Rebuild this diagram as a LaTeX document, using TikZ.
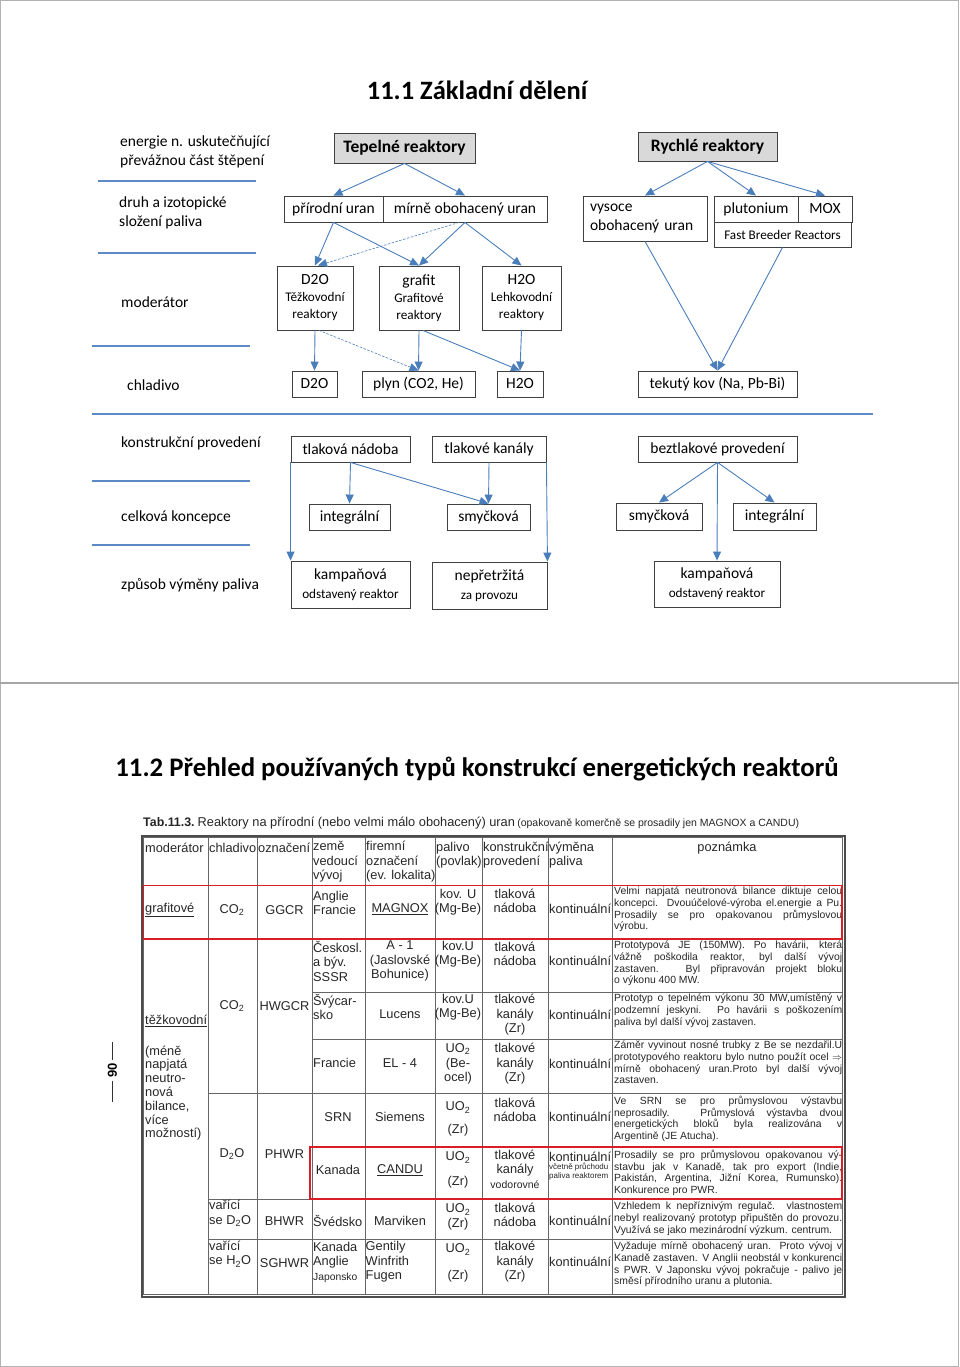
\documentclass[tikz,border=0pt]{standalone}
\usepackage{fontspec}
\setmainfont{Carlito}
\newfontfamily\arialfnt{Liberation Sans}
\usetikzlibrary{arrows.meta}

\definecolor{arrowblue}{RGB}{74,126,187}
\definecolor{lineblue}{RGB}{91,138,198}
\definecolor{boxgray}{RGB}{217,217,217}
\definecolor{scanred}{RGB}{218,30,40}

\newcommand\hfnt{\fontsize{26.5}{30}\selectfont\bfseries}
\newcommand\kfnt{\fontsize{17.5}{20}\selectfont\bfseries}
\newcommand\mfnt{\fontsize{15.5}{19}\selectfont}
\newcommand\sfnt{\fontsize{13.2}{17}\selectfont}
\newcommand\tfnt{\arialfnt\fontsize{12.8}{14.5}\selectfont}
\newcommand\nfnt{\arialfnt\fontsize{10.4}{11.7}\selectfont}
\newcommand\jl[1]{\makebox[228pt][s]{#1}}

\begin{document}
\begin{tikzpicture}[x=1pt,y=-1pt,
  box/.style={draw=black!75, line width=0.9pt, minimum height=26, inner sep=3,
    font=\mfnt, align=center},
  headbox/.style={box, fill=boxgray, font=\kfnt},
  tallbox/.style={box, minimum height=64},
  lbl/.style={anchor=west, inner sep=0, font=\mfnt, align=left},
  arr/.style={draw=arrowblue, line width=0.9pt, -{Triangle[length=9pt,width=8pt]}},
  darr/.style={arr, line width=0.6pt, dash pattern=on 2.5pt off 1.5pt},
  lvlline/.style={draw=lineblue, line width=1.5pt},
  tcell/.style={inner sep=0, font=\tfnt, text=black!85, align=center},
  tlcell/.style={tcell, anchor=west, align=left},
  note/.style={inner sep=0, font=\nfnt, text=black!85, align=left, anchor=north west},
  tabline/.style={draw=black!60, line width=0.7pt},
  redframe/.style={draw=scanred, line width=1.8pt}]
  \useasboundingbox (0,0) rectangle (960,1367);
  \draw[black!30, line width=1pt] (0.5,0.5) rectangle (958.5,1366.5);
  \draw[black!35, line width=1.2pt] (0,683) -- (958.5,683);

  % 11.1 classification
  \node[font=\hfnt] (t1) at (477,90) {11.1 Základní dělení};

  \node[lbl] (l1) at (120,151.5) {energie n. uskutečňující\\převážnou část štěpení};
  \node[lbl] (l2) at (119,212.5) {druh a izotopické\\složení paliva};
  \node[lbl] (l3) at (121,302) {moderátor};
  \node[lbl] (l4) at (127,385) {chladivo};
  \node[lbl] (l5) at (121,443) {konstrukční provedení};
  \node[lbl] (l6) at (121,517) {celková koncepce};
  \node[lbl] (l7) at (121,585) {způsob výměny paliva};
  \draw[lvlline] (98,181) -- (256,181);
  \draw[lvlline] (98,253) -- (256,253);
  \draw[lvlline] (92,346) -- (250,346);
  \draw[lvlline] (92,414) -- (873,414);
  \draw[lvlline] (92,481) -- (250,481);
  \draw[lvlline] (92,545) -- (250,545);

  \node[headbox, minimum width=141, minimum height=30] (tep) at (404.5,148) {Tepelné reaktory};
  \node[headbox, minimum width=139, minimum height=29] (ryc) at (707.5,146.5) {Rychlé reaktory};

  \node[box, minimum width=99] (pu) at (333.5,209) {přírodní uran};
  \node[box, minimum width=164] (mo) at (465,209) {mírně obohacený uran};
  \node[box, minimum width=124, minimum height=45, text width=110, inner xsep=7,
    align=left] (vys) at (645,218.5) {\raisebox{-3pt}{vysoce}\\\raisebox{-3pt}{obohacený uran}};
  \node[box, minimum width=84] (plu) at (756,209) {plutonium};
  \node[box, minimum width=54] (mox) at (825,209) {MOX};
  \node[box, minimum width=137, minimum height=25, font=\sfnt] (fbr) at (782.5,234.5) {Fast Breeder Reactors};

  \node[tallbox, minimum width=76] (d2o) at (315,298) {\raisebox{-3pt}{D2O}\\[1pt]{\sfnt Těžkovodní}\\[-2pt]{\sfnt reaktory}};
  \node[tallbox, minimum width=80] (gra) at (419,298) {\raisebox{-3pt}{grafit}\\[1pt]{\sfnt Grafitové}\\[-2pt]{\sfnt reaktory}};
  \node[tallbox, minimum width=79] (h2o) at (521.5,298) {\raisebox{-3pt}{H2O}\\[1pt]{\sfnt Lehkovodní}\\[-2pt]{\sfnt reaktory}};

  \node[box, minimum width=45] (cd2o) at (314.5,384) {D2O};
  \node[box, minimum width=113] (plyn) at (418.5,384) {plyn (CO2, He)};
  \node[box, minimum width=46] (ch2o) at (520,384) {H2O};
  \node[box, minimum width=159] (kov) at (717.5,384) {tekutý kov (Na, Pb-Bi)};

  \node[box, minimum width=119] (tn) at (350.5,449) {tlaková nádoba};
  \node[box, minimum width=114] (tk) at (489,449) {tlakové kanály};
  \node[box, minimum width=159] (bez) at (717.5,449) {beztlakové provedení};

  \node[box, minimum width=81] (int1) at (349.5,517) {integrální};
  \node[box, minimum width=83] (sm1) at (488.5,517) {smyčková};
  \node[box, minimum width=86, minimum height=27] (sm2) at (659,516.5) {smyčková};
  \node[box, minimum width=83, minimum height=27] (int2) at (774.5,516.5) {integrální};

  \node[box, minimum width=119, minimum height=47] (kam1) at (350.5,584.5) {kampaňová\\{\sfnt odstavený reaktor}};
  \node[box, minimum width=115, minimum height=47] (nep) at (489.5,585.5) {nepřetržitá\\{\sfnt za provozu}};
  \node[box, minimum width=126, minimum height=46] (kam2) at (717,584) {kampaňová\\{\sfnt odstavený reaktor}};

  \foreach \t in {pu,mo} \draw[arr] (tep.south) -- (\t.north);
  \foreach \t in {vys,plu,mox} \draw[arr] (ryc.south) -- (\t.north);
  \foreach \t in {d2o,gra} \draw[arr] (pu.south) -- (\t.north);
  \foreach \t in {gra,h2o} \draw[arr] (mo.south) -- (\t.north);
  \draw[darr] ([xshift=-6pt]mo.south) -- ([xshift=3pt]d2o.north);
  \draw[arr] (vys.south) -- (kov.north);
  \draw[arr] (fbr.south) -- (kov.north);
  \draw[arr] (d2o.south) -- (cd2o.north);
  \draw[darr] ([xshift=4pt]d2o.south) -- (plyn.north);
  \draw[arr] (gra.south) -- (plyn.north);
  \draw[arr] ([xshift=4pt]gra.south) -- (ch2o.north);
  \draw[arr] (h2o.south) -- (ch2o.north);
  \draw[arr] (tn.south west) -- (kam1.north west);
  \foreach \t in {int1,sm1} \draw[arr] (tn.south) -- (\t.north);
  \draw[arr] (tk.south) -- (sm1.north);
  \draw[arr] (tk.south east) -- (nep.north east);
  \foreach \t in {sm2,int2,kam2} \draw[arr] (bez.south) -- (\t.north);

  % 11.2 table
  \node[font=\fontsize{26.8}{30}\selectfont\bfseries] (t2) at (477,769)
    {11.2 Přehled používaných typů konstrukcí energetických reaktorů};
  \node[anchor=west, inner sep=0, text=black!85] (cap) at (143,823)
    {{\arialfnt\fontsize{12.4}{14}\selectfont\bfseries Tab.11.3.} {\arialfnt\fontsize{12.8}{14}\selectfont
    Reaktory na přírodní (nebo velmi málo obohacený) uran} {\arialfnt\fontsize{10.5}{12}\selectfont
    (opakovaně komerčně se prosadily jen MAGNOX a CANDU)}};

  \node[rotate=90, inner sep=0, font=\arialfnt\fontsize{13}{14}\selectfont\bfseries] (pg) at (112.5,1070) {90};
  \draw[black!80, line width=1pt] (112.5,1042) -- (112.5,1060);
  \draw[black!80, line width=1pt] (112.5,1081) -- (112.5,1102);

  \draw[black!70, line width=2pt] (141.5,835.5) rectangle (845,1297);
  \draw[tabline] (143.5,837.5) rectangle (842,1294);
  \foreach \x in {208,257,312,365,435,482,548,612}
    \draw[tabline] (\x,837.5) -- (\x,1294);
  \foreach \y in {885,939}
    \draw[tabline] (143.5,\y) -- (842,\y);
  \foreach \y in {992,1039,1147}
    \draw[tabline] (312,\y) -- (842,\y);
  \foreach \y in {1093,1199,1239}
    \draw[tabline] (208,\y) -- (842,\y);

  % header
  \node[tlcell] (hmod) at (145,848) {moderátor};
  \node[tlcell] (hchl) at (209,848) {chladivo};
  \node[tlcell] (hozn) at (258,848) {označení};
  \node[tlcell] (hzem) at (313,862) {země\\vedoucí\\vývoj};
  \node[tlcell] (hfir) at (366,862) {firemní\\označení\\(ev. lokalita)};
  \node[tlcell] (hpal) at (436,855) {palivo\\(povlak)};
  \node[tlcell] (hkon) at (483,855) {konstrukční\\provedení};
  \node[tlcell] (hvym) at (549,855) {výměna\\paliva};
  \node[tcell] (hpoz) at (727,848) {poznámka};

  % moderator, coolant, designation
  \node[tlcell] (mgra) at (145,910) {\underline{grafitové}};
  \node[tlcell] (mtez) at (145,1021) {\underline{těžkovodní}};
  \node[tlcell, font=\arialfnt\fontsize{12.8}{13.8}\selectfont] (mtxt) at (145,1093)
    {(méně\\napjatá\\neutro-\\nová\\bilance,\\více\\možností)};
  \node[tcell] (c1) at (232,910) {CO\textsubscript{2}};
  \node[tcell] (c2) at (232,1006) {CO\textsubscript{2}};
  \node[tcell] (c3) at (232,1154) {D\textsubscript{2}O};
  \node[tlcell] (c4) at (209,1213.5) {vařící\\se D\textsubscript{2}O};
  \node[tlcell] (c5) at (209,1254) {vařící\\se H\textsubscript{2}O};
  \node[tcell] (o1) at (284.5,910) {GGCR};
  \node[tcell] (o2) at (284.5,1006) {HWGCR};
  \node[tcell] (o3) at (284.5,1154) {PHWR};
  \node[tcell] (o4) at (284.5,1221) {BHWR};
  \node[tcell] (o5) at (284.5,1263) {SGHWR};

  % country, name
  \node[tlcell] (z1) at (313,903) {Anglie\\Francie};
  \node[tlcell] (z2) at (313,961) {Českosl.\\a býv.\\SSSR};
  \node[tlcell] (z3) at (313,1007) {Švýcar-\\sko};
  \node[tlcell] (z4) at (313,1063) {Francie};
  \node[tcell] (z5) at (338,1117) {SRN};
  \node[tcell] (z6) at (338,1170) {Kanada};
  \node[tlcell] (z7) at (313,1221) {Švédsko};
  \node[tlcell] (z8) at (313,1262) {Kanada\\Anglie\\{\arialfnt\fontsize{10.3}{12}\selectfont Japonsko}};
  \node[tcell] (f1) at (400,909) {\underline{MAGNOX}};
  \node[tcell] (f2) at (400,961) {A - 1\\(Jaslovské\\Bohunice)};
  \node[tcell] (f3) at (400,1014) {Lucens};
  \node[tcell] (f4) at (400,1063) {EL - 4};
  \node[tcell] (f5) at (400,1117) {Siemens};
  \node[tcell] (f6) at (400,1170) {\underline{CANDU}};
  \node[tcell] (f7) at (400,1221) {Marviken};
  \node[tlcell] (f8) at (365.5,1262) {Gentily\\Winfrith\\Fugen};

  % fuel, design, refuelling
  \node[tcell] (p1) at (458,902) {kov. U\\(Mg-Be)};
  \node[tcell] (p2) at (458,954) {kov.U\\(Mg-Be)};
  \node[tcell] (p3) at (458,1007) {kov.U\\(Mg-Be)};
  \node[tcell] (p4) at (458,1064) {UO\textsubscript{2}\\(Be-\\ocel)};
  \node[tcell] (p5) at (458,1119) {UO\textsubscript{2}\\[8pt](Zr)};
  \node[tcell] (p6) at (458,1170) {UO\textsubscript{2}\\[10pt](Zr)};
  \node[tcell] (p7) at (458,1217) {UO\textsubscript{2}\\(Zr)};
  \node[tcell] (p8) at (458,1263) {UO\textsubscript{2}\\[12pt](Zr)};
  \node[tcell] (k1) at (515,901) {tlaková\\nádoba};
  \node[tcell] (k2) at (515,954) {tlaková\\nádoba};
  \node[tcell] (k3) at (515,1015) {tlakové\\kanály\\(Zr)};
  \node[tcell] (k4) at (515,1064) {tlakové\\kanály\\(Zr)};
  \node[tcell] (k5) at (515,1110) {tlaková\\nádoba};
  \node[tcell] (k6) at (515,1169) {tlakové\\kanály\\{\arialfnt\fontsize{10.5}{12}\selectfont vodorovné}};
  \node[tcell] (k7) at (515,1215) {tlaková\\nádoba};
  \node[tcell] (k8) at (515,1262) {tlakové\\kanály\\(Zr)};
  \foreach \n/\y in {v1/909,v2/961,v3/1015,v4/1064,v5/1117,v6/1157,v7/1221,v8/1262}
    \node[tlcell] (\n) at (549,\y) {kontinuální};
  \node[tlcell, font=\arialfnt\fontsize{8}{9}\selectfont] (v6b) at (549,1171.5) {včetně průchodu\\paliva reaktorem};

  % remarks
  \node[note] (n1) at (614,887) {\jl{Velmi napjatá neutronová bilance diktuje celou}\\
    \jl{koncepci. Dvouúčelové-výroba el.energie a Pu.}\\
    \jl{Prosadily se pro opakovanou průmyslovou}\\výrobu.};
  \node[note] (n2) at (614,941) {\jl{Prototypová JE (150MW). Po havárii, která}\\
    \jl{vážně poškodila reaktor, byl další vývoj}\\
    \jl{zastaven. Byl připravován projekt bloku}\\o výkonu 400 MW.};
  \node[note] (n3) at (614,994) {\jl{Prototyp o tepelném výkonu 30 MW,umístěný v}\\
    \jl{podzemní jeskyni. Po havárii s poškozením}\\paliva byl další vývoj zastaven.};
  \node[note] (n4) at (614,1041) {\jl{Záměr vyvinout nosné trubky z Be se nezdařil.U}\\
    \jl{prototypového reaktoru bylo nutno použít ocel $\Rightarrow$}\\
    \jl{mírně obohacený uran.Proto byl další vývoj}\\zastaven.};
  \node[note] (n5) at (614,1096) {\jl{Ve SRN se pro průmyslovou výstavbu}\\
    \jl{neprosadily. Průmyslová výstavba dvou}\\
    \jl{energetických bloků byla realizována v}\\Argentině (JE Atucha).};
  \node[note] (n6) at (614,1150) {\jl{Prosadily se pro průmyslovou opakovanou vý-}\\
    \jl{stavbu jak v Kanadě, tak pro export (Indie,}\\
    \jl{Pakistán, Argentina, Jižní Korea, Rumunsko).}\\Konkurence pro PWR.};
  \node[note] (n7) at (614,1202) {\jl{Vzhledem k nepříznivým regulač. vlastnostem}\\
    \jl{nebyl realizovaný prototyp připuštěn do provozu.}\\
    Využívá se jako mezinárodní výzkum. centrum.};
  \node[note] (n8) at (614,1242) {\jl{Vyžaduje mírně obohacený uran. Proto vývoj v}\\
    \jl{Kanadě zastaven. V Anglii neobstál v konkurenci}\\
    \jl{s PWR. V Japonsku vývoj pokračuje - palivo je}\\směsí přírodního uranu a plutonia.};

  \draw[redframe] (143.5,885.5) rectangle (842,939);
  \draw[redframe] (310,1147) rectangle (842,1199);
\end{tikzpicture}
\end{document}
